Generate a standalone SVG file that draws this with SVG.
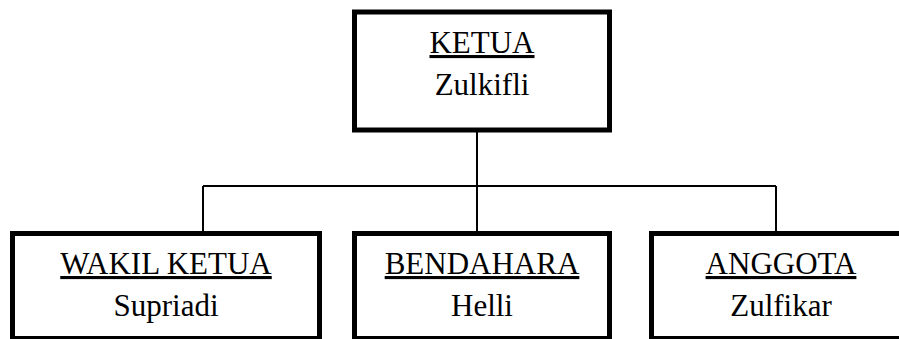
<svg xmlns="http://www.w3.org/2000/svg" width="899" height="339" viewBox="0 0 899 339">
<style>
.box{fill:#fff;stroke:#000;stroke-width:5}
.conn{fill:none;stroke:#000;stroke-width:2}
text{font-family:"Liberation Serif","Times New Roman",serif;font-size:31px;fill:#000;text-anchor:middle}
.title{text-decoration:underline}
</style>
<rect width="899" height="339" fill="#fff"/>
<g id="connectors">
<path class="conn" d="M477 132V186M203 186H776M203 186V231M477 186V231M776 186V231"/>
</g>
<g id="ketua">
<rect class="box" x="354.5" y="12" width="255" height="118"/>
<text class="title" x="482" y="53">KETUA</text>
<text x="482" y="95">Zulkifli</text>
</g>
<g id="wakil">
<rect class="box" x="12.5" y="233.5" width="307" height="105"/>
<text class="title" x="166" y="274">WAKIL KETUA</text>
<text x="166" y="316">Supriadi</text>
</g>
<g id="bendahara">
<rect class="box" x="354.5" y="233.5" width="255" height="105"/>
<text class="title" x="482" y="274">BENDAHARA</text>
<text x="482" y="316">Helli</text>
</g>
<g id="anggota">
<rect class="box" x="651.5" y="233.5" width="260" height="105"/>
<text class="title" x="781" y="274">ANGGOTA</text>
<text x="781" y="316">Zulfikar</text>
</g>
</svg>
